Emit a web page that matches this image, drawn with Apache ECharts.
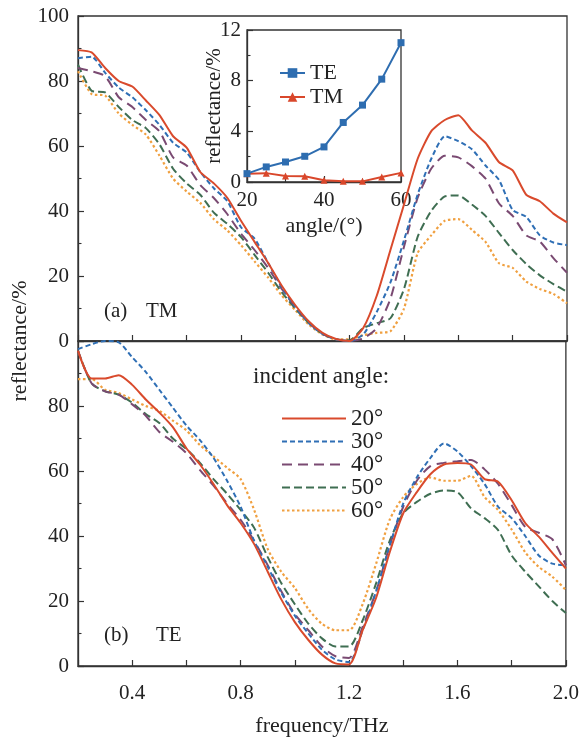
<!DOCTYPE html>
<html><head><meta charset="utf-8">
<script src="https://cdn.jsdelivr.net/npm/echarts@6/dist/echarts.min.js"></script>
<style>html,body{margin:0;padding:0;background:#fff}#c{width:582px;height:738px}</style>
</head><body><div id="c"></div>
<script>
// ---------- data ----------
const freq = [0.20,0.25,0.30,0.35,0.40,0.45,0.50,0.55,0.60,0.65,0.70,0.75,0.80,0.85,0.90,0.95,1.00,1.05,1.10,1.15,1.20,1.25,1.30,1.35,1.40,1.45,1.50,1.55,1.60,1.65,1.70,1.75,1.80,1.85,1.90,1.95,2.00];
const angleNames = ['20°','30°','40°','50°','60°'];
// (a) TM
const tm20 = [89.5,88.8,84,80,78.3,74,69.5,63,59.5,52,48.5,44,37,30.5,24,17,11,6,2.5,0.6,0,4,14,28,42,56,64.5,68,69.5,64.8,61,55,52.5,45,43,39.2,36.5];
const tm30 = [87,87.5,82.5,78,75,71,66.5,61,58,52,47,43,35,31.5,24,16.5,10.5,5.5,2.2,0.5,0,2,9,18,31,45,56,63,61.5,59,54,49.5,40.3,38.2,32.5,30.3,29.5];
const tm40 = [84,83,81.5,75,72,68,64.5,56.5,54,48,44,39,33,28,22.5,16,10.5,5.5,2.2,0.5,0,0.8,4,13,29,44,53,57,56.5,53.8,50,42.3,38.5,32.5,30.6,25.5,21];
const tm50 = [85,77,76.5,72,68,65.5,60.5,53,48.5,45,39.5,36,32,26.5,21,15,10,5.5,2.2,0.5,0.2,4,5.5,7,16,32,40,44.5,44.8,42,38.5,33.2,28,23.7,20.2,17.5,15.2];
const tm60 = [83,76,75.5,70,66.5,63.5,57,50,46,42.5,37.5,34,29.5,24.5,19.5,14,9.5,5,2,0.5,0.5,1.8,2.5,3,10,27,32.5,37,37.5,34.2,30.5,23.9,22.5,18.3,16,14.5,11.6];
// (b) TE
const te20 = [97,88.5,88.5,89.5,86.5,82,78,73.5,67,62,56,49.5,44,37.5,29,20.5,13.5,8,3.5,0.8,0.5,11,21,35,47,53.5,59,62,62.5,62,57.5,56.7,51,44,39.8,34.8,30];
const te30 = [97.5,99,100,99.6,95,90.5,85,79.5,74,69.5,64,57,49,38.5,30.5,22.5,15.5,10,5,2,1.2,11,23,37,50,58,64,68.5,66,61.5,56,49,45.5,40,34,31.5,31];
const te40 = [97,87,84.5,83.5,80.5,77,72,69,65.5,60.3,55.5,50,45,38.5,31,23,16,11,6,3,2.5,12,23,37,49,57,61.5,62.5,63,63.4,60.5,56,49.5,42.8,41,39,31];
const te50 = [97,87,84.5,83.5,81,77.5,74.8,70,66.8,62.5,57.5,53,48,42.5,33.5,25.5,19,13,8.5,6,6,14,25.5,38.5,47,50.5,53,54,53.5,48.5,45.5,41.8,34,29,24.5,20,16.3];
const te60 = [88.3,88.3,85,84,82,80,78.5,75.5,72.5,68,64.5,61,57.5,48,36,29,24,17.5,13,11,11,19,31.5,45,52,56,58,57,57,58.5,52,48,42,35,30.5,27.5,23.4];
// inset
const insetAngles = [20,25,30,35,40,45,50,55,60];
const insetTE = [0.66,1.19,1.58,2.03,2.77,4.7,6.07,8.12,11.0];
const insetTM = [0.66,0.7,0.48,0.45,0.13,0.05,0.05,0.4,0.72];

// ---------- styles ----------
const FONT = '"Liberation Serif","Times New Roman",serif';
const TXT = '#222';
const AX = '#333';
const lineStyles = [
  {color:'#d94a2c', type:'solid', width:2},
  {color:'#2f6fb5', type:[5,3], width:2},
  {color:'#7a4a72', type:[10,6], width:2},
  {color:'#3f6e52', type:[8,4], width:2},
  {color:'#f0a040', type:[2.5,2.5], width:2.2}
];
const pairs = (xs, ys) => xs.map((x,i)=>[x, ys[i]]);
const tmSets = [tm20,tm30,tm40,tm50,tm60];
const teSets = [te20,te30,te40,te50,te60];

const series = [];
tmSets.forEach((d,i)=>series.push({
  name: angleNames[i], type:'line', xAxisIndex:0, yAxisIndex:0, data: pairs(freq,d),
  symbol:'none', smooth:0.2, lineStyle: lineStyles[i], itemStyle:{color: lineStyles[i].color}, z: 10-i
}));
teSets.forEach((d,i)=>series.push({
  name: angleNames[i], type:'line', xAxisIndex:1, yAxisIndex:1, data: pairs(freq,d),
  symbol:'none', smooth:0.25, lineStyle: lineStyles[i], itemStyle:{color: lineStyles[i].color}, z: 10-i
}));
series.push({name:'TE', type:'line', xAxisIndex:2, yAxisIndex:2, data: pairs(insetAngles, insetTE),
  symbol:'rect', symbolSize:7, lineStyle:{color:'#2e6db0', width:2}, itemStyle:{color:'#2e6db0'}, z:20});
series.push({name:'TM', type:'line', xAxisIndex:2, yAxisIndex:2, data: pairs(insetAngles, insetTM),
  symbol:'triangle', symbolSize:7, lineStyle:{color:'#d9472b', width:2}, itemStyle:{color:'#d9472b'}, z:19});

const axLine = {lineStyle:{color:AX, width:1.3}};
const tick = {inside:true, length:6, lineStyle:{color:AX, width:1.2}};
const minor = {show:true, splitNumber:2, length:3.5, lineStyle:{color:AX, width:1.1}};
const lbl = {fontFamily:FONT, fontSize:21, color:TXT};
const r1 = v => Math.round(v*10);

const option = {
  animation:false,
  backgroundColor:'#fff',
  grid:[
    {left:78, top:16, width:489, height:325, show:true, borderColor:AX, borderWidth:1.3},
    {left:78, top:341, width:489, height:325, show:true, borderColor:AX, borderWidth:1.3},
    {left:247, top:30, width:154, height:152, show:true, borderColor:AX, borderWidth:1.3, backgroundColor:'#fff'}
  ],
  xAxis:[
    {gridIndex:0, type:'value', min:0.2, max:2.0, interval:0.2, axisLine:axLine, axisTick:tick,
     axisLabel:{show:false}, splitLine:{show:false}},
    {gridIndex:1, type:'value', min:0.2, max:2.0, interval:0.2, axisLine:axLine, axisTick:tick,
     axisLabel:Object.assign({margin:17, formatter:v=> (r1(v)%4===0 ? (r1(v)/10).toFixed(1) : '')}, lbl),
     splitLine:{show:false},
     name:'frequency/THz', nameLocation:'middle', nameGap:49,
     nameTextStyle:{fontFamily:FONT, fontSize:22, color:TXT}},
    {gridIndex:2, type:'value', min:20, max:60, interval:20, axisLine:axLine, axisTick:tick, minorTick:minor,
     axisLabel:Object.assign({margin:8}, lbl), splitLine:{show:false}, minorSplitLine:{show:false},
     name:'angle/(°)', nameLocation:'middle', nameGap:33,
     nameTextStyle:{fontFamily:FONT, fontSize:22, color:TXT}}
  ],
  yAxis:[
    {gridIndex:0, type:'value', min:0, max:100, interval:20, axisLine:axLine, axisTick:tick, minorTick:minor,
     axisLabel:Object.assign({margin:9}, lbl), splitLine:{show:false}, minorSplitLine:{show:false}},
    {gridIndex:1, type:'value', min:0, max:100, interval:20, axisLine:axLine, axisTick:tick, minorTick:minor,
     axisLabel:Object.assign({margin:9, formatter:v=> v>=100 ? '' : String(v)}, lbl), splitLine:{show:false}, minorSplitLine:{show:false}},
    {gridIndex:2, type:'value', min:0, max:12, interval:4, axisLine:axLine, axisTick:tick, minorTick:minor,
     axisLabel:Object.assign({margin:6}, lbl), splitLine:{show:false}, minorSplitLine:{show:false},
     name:'reflectance/%', nameLocation:'middle', nameGap:22, nameMoveOverlap:false,
     nameTextStyle:{fontFamily:FONT, fontSize:21, color:TXT}}
  ],
  legend:[
    {data:angleNames, orient:'vertical', left:276, top:402, itemWidth:64, itemHeight:12, itemGap:0,
     itemStyle:{opacity:0},
     textStyle:{fontFamily:FONT, fontSize:23, color:TXT}, selectedMode:false},
    {data:['TE','TM'], orient:'vertical', left:274, top:57, itemWidth:25, itemHeight:12, itemGap:2,
     textStyle:{fontFamily:FONT, fontSize:22, color:TXT}, selectedMode:false}
  ],
  graphic:[
    {type:'text', x:20, y:341, rotation:Math.PI/2, style:{text:'reflectance/%', font:'22px '+FONT, fill:TXT, align:'center', verticalAlign:'middle'}},
    {type:'text', x:104, y:311, style:{text:'(a)', font:'21px '+FONT, fill:TXT, align:'left', verticalAlign:'middle'}},
    {type:'text', x:146, y:311, style:{text:'TM', font:'21px '+FONT, fill:TXT, align:'left', verticalAlign:'middle'}},
    {type:'text', x:104, y:635, style:{text:'(b)', font:'21px '+FONT, fill:TXT, align:'left', verticalAlign:'middle'}},
    {type:'text', x:156, y:635, style:{text:'TE', font:'21px '+FONT, fill:TXT, align:'left', verticalAlign:'middle'}},
    {type:'text', x:253, y:377, style:{text:'incident angle:', font:'23px '+FONT, fill:TXT, align:'left', verticalAlign:'middle'}}
  ],
  series: series
};
const chart = echarts.init(document.getElementById('c'), null, {renderer:'canvas'});
chart.setOption(option);
</script>
</body></html>
